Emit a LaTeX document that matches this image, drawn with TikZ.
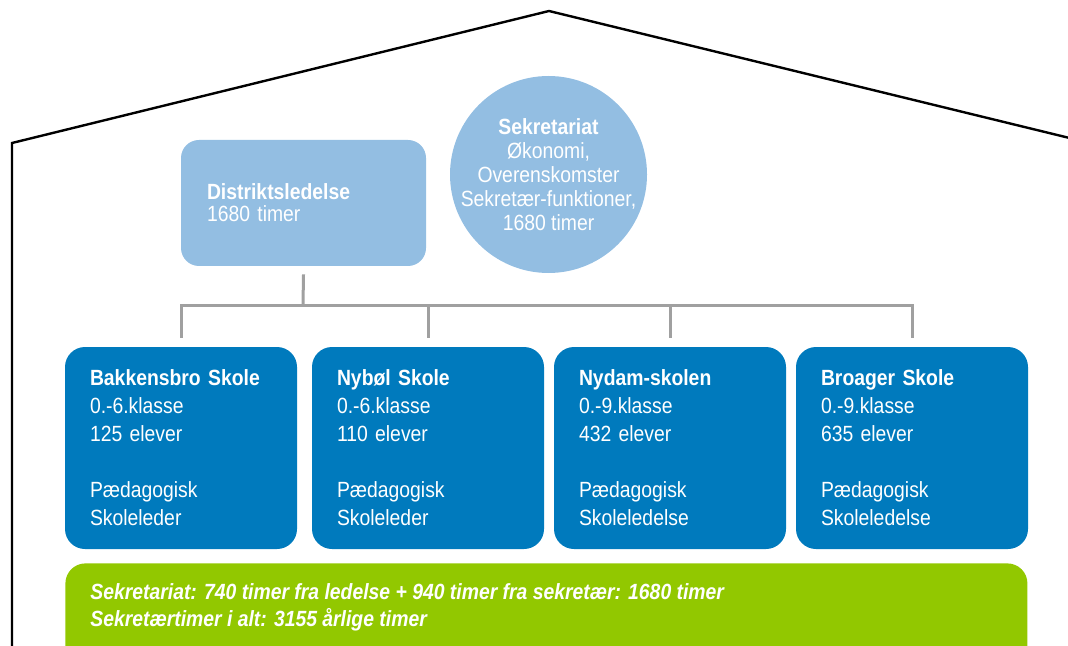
\documentclass[tikz,border=0pt]{standalone}
\usepackage{fontspec}
\setmainfont{Liberation Sans}[FakeStretch=0.88]

\definecolor{distblue}{HTML}{93BEE2}
\definecolor{schoolblue}{HTML}{007ABD}
\definecolor{sumgreen}{HTML}{92C800}
\definecolor{linegray}{HTML}{A0A0A0}

\begin{document}
\begin{tikzpicture}[x=0.5pt, y=-0.5pt,
    school/.style={rectangle, rounded corners=10pt, fill=schoolblue, text=white,
      minimum height=101pt, text width=91pt, inner xsep=12.5pt, align=left,
      font=\fontsize{11}{14}\selectfont},
    connector/.style={linegray, line width=1.5pt}]
    \useasboundingbox (0, 0) rectangle (1068, 646);
    \draw [line width=1.2pt] (12, 660) -- (12, 143) -- (549, 11) -- (1090, 143);
    \node [rectangle, rounded corners=9pt, fill=distblue, text=white, minimum height=63pt,
      text width=96.5pt, inner xsep=13pt, align=left, font=\fontsize{11}{11}\selectfont]
      (dist) at (303.5, 203) {\textbf{Distriktsledelse}\\1680 timer};
    \node [circle, fill=distblue, text=white, minimum size=98.5pt, inner sep=-12pt, align=center,
      font=\fontsize{11}{12}\selectfont]
      (sekr) at (548.5, 174.5) {\textbf{Sekretariat}\\Økonomi,\\Overenskomster\\Sekretær-funktioner,\\1680 timer};
    \node [school] (bakkensbro) at (181, 448)
      {\textbf{Bakkensbro Skole}\\0.-6.klasse\\125 elever\\[14pt]Pædagogisk\\Skoleleder};
    \node [school] (nybol) at (428, 448)
      {\textbf{Nybøl Skole}\\0.-6.klasse\\110 elever\\[14pt]Pædagogisk\\Skoleleder};
    \node [school] (nydam) at (670, 448)
      {\textbf{Nydam-skolen}\\0.-9.klasse\\432 elever\\[14pt]Pædagogisk\\Skoleledelse};
    \node [school] (broager) at (912, 448)
      {\textbf{Broager Skole}\\0.-9.klasse\\635 elever\\[14pt]Pædagogisk\\Skoleledelse};
    \coordinate (hub) at (303, 305);
    \draw [connector] ([yshift=-4pt]dist.south) -- (hub);
    \draw [connector] ([yshift=4.5pt]bakkensbro.north) -- (bakkensbro.north |- hub)
      -- (broager.north |- hub) -- ([yshift=4.5pt]broager.north);
    \foreach \s in {nybol, nydam}
      \draw [connector] ([yshift=4.5pt]\s.north) -- (\s.north |- hub);
    \node [rectangle, rounded corners=10pt, fill=sumgreen, minimum width=481pt, minimum height=70pt,
      anchor=north west, inner sep=0pt] (bar) at (65, 563) {};
    \node [anchor=north west, text=white, align=left, inner sep=0pt,
      font=\fontsize{11}{13.5}\selectfont\bfseries\itshape]
      (sum) at ([xshift=12.5pt, yshift=-10pt]bar.north west)
      {Sekretariat: 740 timer fra ledelse + 940 timer fra sekretær: 1680 timer\\Sekretærtimer i alt: 3155 årlige timer};
  \end{tikzpicture}
\end{document}
